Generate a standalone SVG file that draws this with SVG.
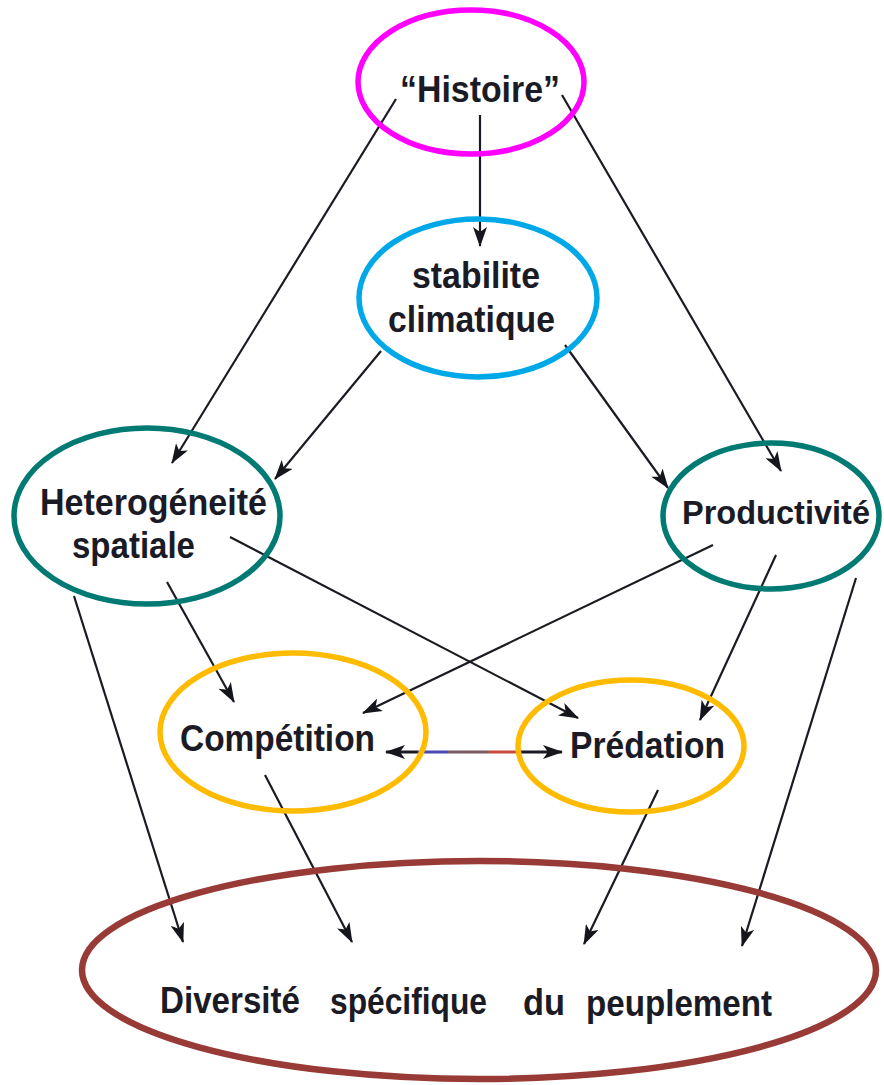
<svg xmlns="http://www.w3.org/2000/svg" width="884" height="1085" viewBox="0 0 884 1085">
  <defs>
    <marker id="arrow" viewBox="0 0 20 14" refX="19" refY="7" markerWidth="20" markerHeight="14" markerUnits="userSpaceOnUse" orient="auto-start-reverse">
      <path d="M0,0 L20,7 L0,14 L5,7 Z" fill="#15151d"/>
    </marker>
    <!-- tinted span of the two-way link -->
    <linearGradient id="duo" gradientUnits="userSpaceOnUse" x1="385" y1="0" x2="562" y2="0">
      <stop offset="0.18" stop-color="#1a1a22"/>
      <stop offset="0.19" stop-color="#4a4ab0"/>
      <stop offset="0.35" stop-color="#4a4ab0"/>
      <stop offset="0.36" stop-color="#7a5a60"/>
      <stop offset="0.58" stop-color="#7a5a60"/>
      <stop offset="0.59" stop-color="#c84a3a"/>
      <stop offset="0.74" stop-color="#c84a3a"/>
      <stop offset="0.75" stop-color="#1a1a22"/>
    </linearGradient>
    <style>
      .lbl { font-family: "Liberation Sans", Arial, sans-serif; font-weight: bold; font-size: 36px; fill: #1b1b26; }
      .ring { fill: none; stroke-width: 5.5; }
      .edge { fill: none; stroke: #1a1a22; stroke-width: 2.2; marker-end: url(#arrow); }
    </style>
  </defs>
  <rect width="884" height="1085" fill="#ffffff"/>

  <g id="connectors">
    <line class="edge" x1="480" y1="115" x2="480" y2="246"/>
    <line class="edge" x1="396" y1="99" x2="172" y2="463"/>
    <line class="edge" x1="562" y1="95" x2="781" y2="471"/>
    <line class="edge" x1="381" y1="351" x2="275" y2="479"/>
    <line class="edge" x1="565" y1="345" x2="668" y2="488"/>
    <line class="edge" x1="230" y1="537" x2="578" y2="718"/>
    <line class="edge" x1="713" y1="545" x2="363" y2="713"/>
    <line class="edge" x1="167" y1="582" x2="234" y2="702"/>
    <line class="edge" x1="776" y1="555" x2="700" y2="720"/>
    <line class="edge" x1="386" y1="752" x2="562" y2="752" style="stroke: url(#duo); stroke-width: 3; marker-start: url(#arrow);"/>
    <line class="edge" x1="74" y1="596" x2="183" y2="942"/>
    <line class="edge" x1="265" y1="775" x2="352" y2="942"/>
    <line class="edge" x1="658" y1="790" x2="584" y2="944"/>
    <line class="edge" x1="856" y1="578" x2="742" y2="946"/>
  </g>

  <g id="histoire">
    <ellipse class="ring" cx="471" cy="82" rx="113" ry="72" stroke="#ff00ff"/>
    <text class="lbl" x="400" y="102" textLength="160" lengthAdjust="spacingAndGlyphs">“Histoire”</text>
  </g>

  <g id="stabilite">
    <ellipse class="ring" cx="478" cy="298" rx="119" ry="79" stroke="#00a8e8"/>
    <text class="lbl" x="412" y="288" textLength="128" lengthAdjust="spacingAndGlyphs">stabilite</text>
    <text class="lbl" x="388" y="332" textLength="167" lengthAdjust="spacingAndGlyphs">climatique</text>
  </g>

  <g id="heterogeneite">
    <ellipse class="ring" cx="147" cy="516" rx="133" ry="88" stroke="#007a72"/>
    <text class="lbl" x="40" y="515" textLength="227" lengthAdjust="spacingAndGlyphs">Heterogéneité</text>
    <text class="lbl" x="72" y="558" textLength="123" lengthAdjust="spacingAndGlyphs">spatiale</text>
  </g>

  <g id="productivite">
    <ellipse class="ring" cx="771" cy="516" rx="108" ry="73" stroke="#007a72"/>
    <text class="lbl" x="682" y="524" textLength="188" lengthAdjust="spacingAndGlyphs" style="font-size: 33px;">Productivité</text>
  </g>

  <g id="competition">
    <ellipse class="ring" cx="293" cy="732" rx="133" ry="79" stroke="#ffbb00"/>
    <text class="lbl" x="180" y="751" textLength="195" lengthAdjust="spacingAndGlyphs">Compétition</text>
  </g>

  <g id="predation">
    <ellipse class="ring" cx="631" cy="746" rx="113" ry="66" stroke="#ffbb00"/>
    <text class="lbl" x="570" y="758" textLength="155" lengthAdjust="spacingAndGlyphs">Prédation</text>
  </g>

  <g id="diversite">
    <ellipse class="ring" cx="479" cy="970" rx="397" ry="109" stroke="#983a35" style="stroke-width: 6.5;"/>
    <text class="lbl" x="160" y="1013" textLength="140" lengthAdjust="spacingAndGlyphs">Diversité</text>
    <text class="lbl" x="330" y="1014" textLength="157" lengthAdjust="spacingAndGlyphs">spécifique</text>
    <text class="lbl" x="523" y="1015" textLength="42" lengthAdjust="spacingAndGlyphs">du</text>
    <text class="lbl" x="586" y="1016" textLength="186" lengthAdjust="spacingAndGlyphs">peuplement</text>
  </g>
</svg>
